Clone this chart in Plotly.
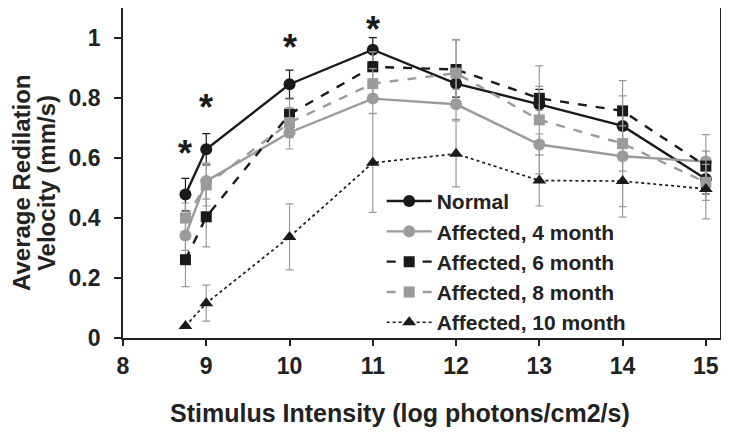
import plotly.graph_objects as go

x = [8.75, 9, 10, 11, 12, 13, 14, 15]
normal = [0.478, 0.629, 0.846, 0.961, 0.848, 0.779, 0.707, 0.53]
normal_err = [0.054, 0.052, 0.047, 0.04, 0.045, 0.05, 0.05, 0.05]
aff4 = [0.342, 0.523, 0.685, 0.798, 0.779, 0.645, 0.606, 0.588]
aff4_err = [0.05, 0.06, 0.055, 0.05, 0.05, 0.035, 0.05, 0.09]
aff6 = [0.261, 0.404, 0.746, 0.904, 0.895, 0.799, 0.757, 0.573]
aff6_err = [0.09, 0.1, 0.05, 0.05, 0.1, 0.04, 0.05, 0.05]
aff8 = [0.40, 0.51, 0.718, 0.848, 0.883, 0.727, 0.648, 0.519]
aff8_err = [0.05, 0.07, 0.05, 0.05, 0.11, 0.18, 0.21, 0.06]
aff10 = [0.04, 0.116, 0.337, 0.584, 0.614, 0.525, 0.523, 0.497]
aff10_err = [0.0, 0.06, 0.11, 0.165, 0.11, 0.085, 0.12, 0.1]

star_x = [8.75, 9, 10, 11]
star_y = [0.627, 0.783, 0.983, 1.043]

x_ticks = [8, 9, 10, 11, 12, 13, 14, 15]
y_ticks = [0, 0.2, 0.4, 0.6, 0.8, 1]
y_ticktext = ["0", "0.2", "0.4", "0.6", "0.8", "1"]

x_title = "Stimulus Intensity (log photons/cm2/s)"
y_title_lines = ["Average Redilation", "Velocity (mm/s)"]

BLACK = "#1a1a1a"
GRAY = "#9b9b9b"
TXT = "#222222"
FONT = "Liberation Sans, Arial, sans-serif"

series = [
    ("Normal", normal, normal_err, BLACK, "solid", "circle", BLACK),
    ("Affected, 4 month", aff4, aff4_err, GRAY, "solid", "circle", GRAY),
    ("Affected, 6 month", aff6, aff6_err, BLACK, "dash", "square", GRAY),
    ("Affected, 8 month", aff8, aff8_err, GRAY, "dash", "square", GRAY),
    ("Affected, 10 month", aff10, aff10_err, BLACK, "dot", "triangle-up", GRAY),
]

fig = go.Figure()
for name, ys, err, col, dash, sym, ecol in series:
    fig.add_trace(go.Scatter(
        x=x, y=ys, name=name, mode="lines+markers",
        line=dict(color=col, width=2.4 if dash != "dot" else 1.7, dash=dash),
        marker=dict(symbol=sym, size=12 if sym != "square" else 11, color=col),
        error_y=dict(type="data", array=err, visible=True, color=ecol, thickness=1.2, width=4),
    ))

for sx, sy in zip(star_x, star_y):
    fig.add_annotation(x=sx, y=sy, text="<b>*</b>", showarrow=False, yshift=-4,
                       font=dict(family=FONT, size=36, color=BLACK),
                       xanchor="center", yanchor="middle")

# y-axis title as two lines (tight line spacing like the reference)
for txt, px in zip(y_title_lines, [-0.169, -0.127]):
    fig.add_annotation(x=px, y=0.47, xref="paper", yref="paper", text="<b>%s</b>" % txt,
                       showarrow=False, textangle=-90, xanchor="center", yanchor="middle",
                       font=dict(family=FONT, size=24, color=TXT))

# x-axis title
fig.add_annotation(x=0.464, y=-0.227, xref="paper", yref="paper", text="<b>%s</b>" % x_title,
                   showarrow=False, xanchor="center", yanchor="middle",
                   font=dict(family=FONT, size=25, color=TXT))

fig.update_layout(
    width=721, height=427,
    margin=dict(l=115, r=9, t=0, b=97),
    paper_bgcolor="white", plot_bgcolor="white",
    font=dict(family=FONT, size=21, color=TXT, weight="bold"),
    legend=dict(x=0.4333, y=0.476, xanchor="left", yanchor="top",
                bgcolor="rgba(0,0,0,0)", itemwidth=45, tracegroupgap=0,
                font=dict(family=FONT, size=21, color=TXT, weight="bold")),
    showlegend=True,
)
fig.update_xaxes(
    range=[8, 15.17], tickvals=x_ticks, ticks="outside", ticklen=6, tickwidth=1.5,
    tickcolor=TXT, showline=True, linecolor=TXT, linewidth=1.8, mirror=True,
    showgrid=False, zeroline=False, automargin=False,
    tickfont=dict(family=FONT, size=23, weight="bold", color=TXT),
)
fig.update_yaxes(
    range=[0, 1.1], tickvals=y_ticks, ticktext=["<b>%s</b>" % t for t in y_ticktext],
    ticks="outside", ticklen=7, tickwidth=1.5, ticklabelstandoff=9,
    tickcolor=TXT, showline=True, linecolor=TXT, linewidth=1.8, mirror=True,
    showgrid=False, zeroline=False, automargin=False,
    tickfont=dict(family=FONT, size=23, weight="bold", color=TXT),
)

fig.write_html("out.html")
